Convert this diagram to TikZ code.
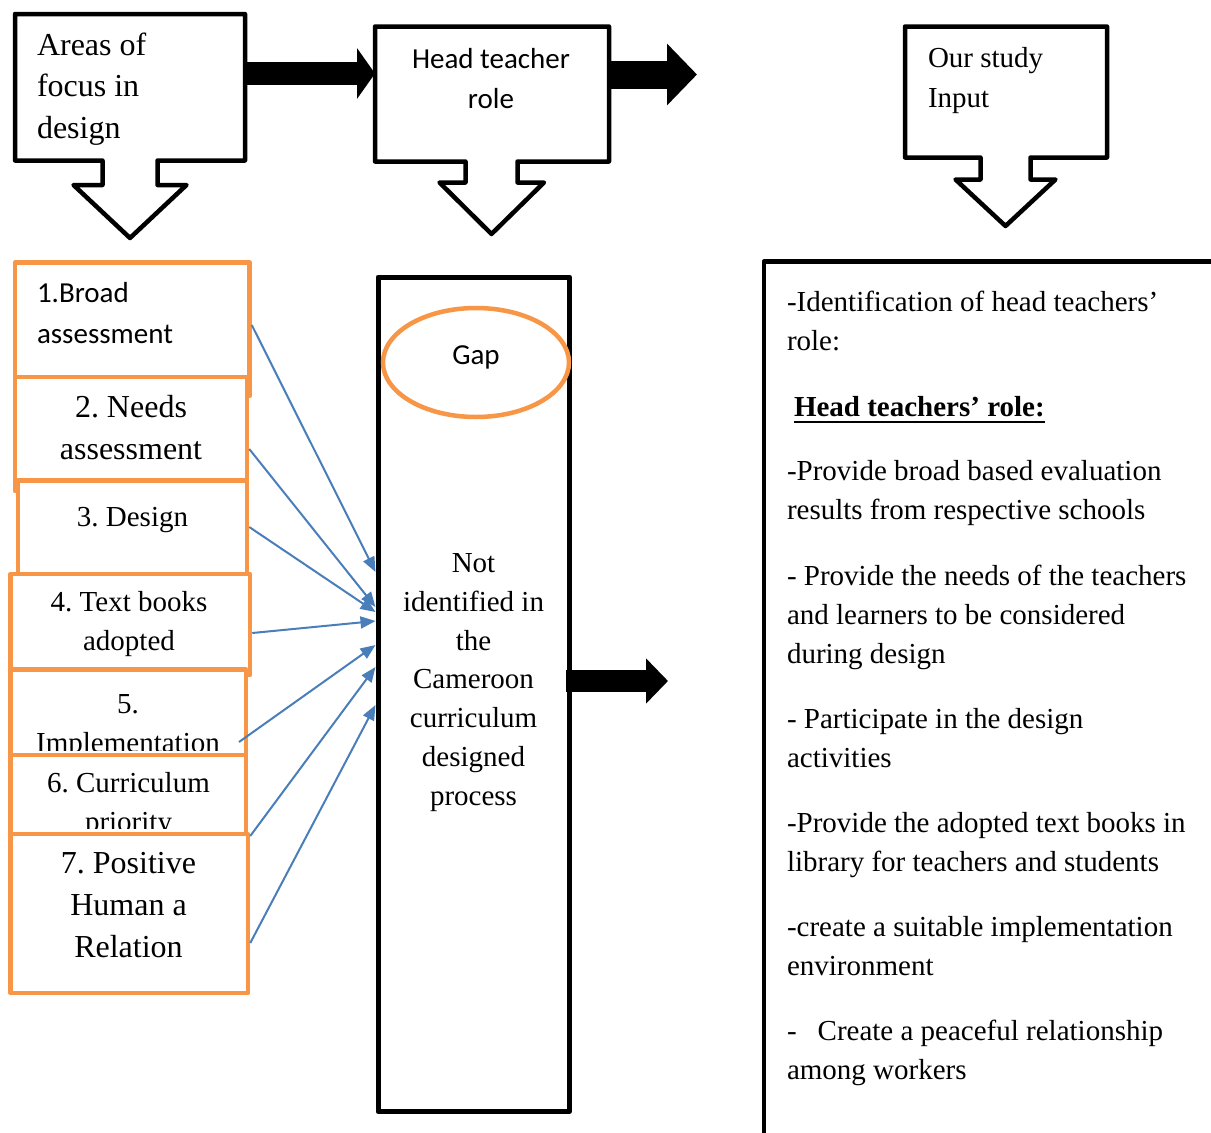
\documentclass[tikz,border=0pt]{standalone}
\usepackage{fontspec}
\setmainfont{Liberation Serif}
\newfontfamily\calib{Carlito}
\usetikzlibrary{arrows.meta,shapes.geometric,calc}
\definecolor{accent}{HTML}{F79646}
\definecolor{linkblue}{HTML}{4A7EBB}
% type sizes used in the chart
\newcommand\txtbig{\fontsize{32pt}{42pt}\selectfont}
\newcommand\txtmid{\fontsize{29pt}{39pt}\selectfont}
\newcommand\txtcal{\calib\fontsize{29pt}{41pt}\selectfont}
% bold heading with a heavy underline
\newcommand\hdul[1]{\setbox0\hbox{#1}\rlap{\raisebox{-7pt}{\rule{\wd0}{2.5pt}}}\box0}
\frenchspacing
\begin{document}
% multi-line texts are placed by the baseline of their last line
\begin{tikzpicture}[x=1pt,y=-1pt,
  blk/.style={draw=black,line width=4.5pt,line join=round},
  anchorbox/.style={inner sep=0,outer sep=0},
  obox/.style={draw=accent,line width=4.5pt,fill=white,line join=round,inner sep=0},
  tall/.style={draw=black,line width=5pt,line join=round,inner sep=0},
  blockarrow/.style args={#1/#2/#3}{line width=#1,-{Triangle[length=#2,width=#3]}},
  linkarrow/.style={draw=linkblue,line width=2pt,-{Triangle[length=15pt,width=12pt]}},
  txt/.style={inner sep=0,outer sep=0}]
\useasboundingbox (0,0) rectangle (1211,1133);
\fill[white] (0,0) rectangle (1211,1133);

% ---- three callout boxes along the top ----
\draw[blk] (15,14) -- (245,14) -- (245,160.5) -- (157.5,160.5) -- (157.5,185)
  -- (186.5,185) -- (130,238) -- (73.5,185) -- (102.5,185) -- (102.5,160.5)
  -- (15,160.5) -- cycle;
\node[anchorbox,minimum width=230,minimum height=146.5] (areas) at (130,87.25) {};
\node[txt,anchor=base west,align=left,font=\fontsize{32pt}{41.5pt}\selectfont] (areastxt)
  at (37,138) {Areas of\\focus in\\design};

\draw[blk] (375,26.5) -- (609,26.5) -- (609,161.5) -- (517.5,161.5) -- (517.5,182.5)
  -- (544,182.5) -- (491.5,234) -- (439.5,182.5) -- (465.5,182.5) -- (465.5,161.5)
  -- (375,161.5) -- cycle;
\node[anchorbox,minimum width=234,minimum height=135] (htr) at (492,94) {};
\node[txt,anchor=base,align=center,font=\calib\fontsize{29pt}{40pt}\selectfont] (htrtxt)
  at (491,108) {Head teacher\\role};

\draw[blk] (905,26.5) -- (1107,26.5) -- (1107,157.5) -- (1030.5,157.5) -- (1030.5,179.5)
  -- (1055.5,179.5) -- (1005.5,226) -- (955.5,179.5) -- (980.5,179.5) -- (980.5,157.5)
  -- (905,157.5) -- cycle;
\node[anchorbox,minimum width=202,minimum height=131] (study) at (1006,92) {};
\node[txt,anchor=base west,align=left,font=\fontsize{29pt}{40pt}\selectfont] (studytxt)
  at (928,107) {Our study\\Input};

% ---- thick black arrows ----
\coordinate (yA) at (0,73.5);
\draw[blockarrow=23pt/18pt/50pt] (areas.east |- yA) -- (htr.west |- yA);
\coordinate (tipB) at (697,74.5);
\draw[blockarrow=28pt/30pt/60pt] (htr.east |- tipB) -- (tipB);

% ---- column of focus areas ----
\node[obox,minimum width=234.5,minimum height=133.5] (b1) at (132.25,329.25) {};
\node[txt,anchor=base west,align=left,font=\txtcal] (b1txt) at (37,343)
  {1.Broad\\assessment};
\node[obox,minimum width=232,minimum height=114] (b2) at (131,434) {};
\node[txt,anchor=base,align=center,font=\txtbig] (b2txt) at (131,459)
  {2. Needs\\assessment};
\node[obox,minimum width=229,minimum height=95.5] (b3) at (132.5,528.25) {};
\node[txt,anchor=base,font=\txtmid] (b3txt) at (132.5,526) {3. Design};
\node[obox,minimum width=239.5,minimum height=101] (b4) at (130.25,624.5) {};
\node[txt,anchor=base,align=center,font=\txtmid] (b4txt) at (129,650)
  {4. Text books\\adopted};
\node[obox,minimum width=235.5,minimum height=87.5] (b5) at (128.25,713.25) {};
\begin{scope}
  \clip (10,669) rectangle (246,750);
  \node[txt,anchor=base,align=center,font=\txtmid] (b5txt) at (128,752)
    {5.\\Implementation};
\end{scope}
\node[obox,minimum width=235.5,minimum height=81] (b6) at (128.25,795.5) {};
\begin{scope}
  \clip (10,755) rectangle (246,828);
  \node[txt,anchor=base,align=center,font=\txtmid] (b6txt) at (128.5,831)
    {6. Curriculum\\priority};
\end{scope}
\node[obox,minimum width=237.5,minimum height=159] (b7) at (129.25,913.5) {};
\node[txt,anchor=base,align=center,font=\txtbig] (b7txt) at (128.5,957)
  {7. Positive\\Human a\\Relation};

% ---- gap column ----
\node[tall,minimum width=191.5,minimum height=834.5] (gapcol) at (473.75,694.25) {};
\node[draw=accent,line width=4.5pt,ellipse,inner sep=0,minimum width=186,minimum height=109]
  (gapring) at (476,362.5) {};
\node[txt,anchor=base,font=\txtcal] (gaptxt) at (476,364) {Gap};
\node[txt,anchor=base,align=center,font=\fontsize{29pt}{38.7pt}\selectfont] (midtxt)
  at (473.5,805) {Not\\identified in\\the\\Cameroon\\curriculum\\designed\\process};

% ---- links from each focus area into the gap column ----
\foreach \src/\sy/\ty in {b1/325/572, b2/449/607, b3/527/612, b4/633/621, b7/836/667, b7/943/705} {
  \coordinate (s) at (0,\sy);
  \coordinate (t) at (0,\ty);
  \draw[linkarrow] (\src.east |- s) -- (gapcol.west |- t);
}
\coordinate (s5) at (239,742);
\coordinate (t5) at (0,645);
\draw[linkarrow] (s5) -- (gapcol.west |- t5);

% ---- study input panel ----
\coordinate (tipC) at (668,681);
\draw[blockarrow=22pt/22pt/44pt] ([xshift=-6pt]gapcol.east |- tipC) -- (tipC);
\draw[line width=4.5pt,line join=round] (1230,261.5) -- (764,261.5) -- (764,1150);
\node[txt,anchor=base west,align=left,font=\txtmid] (p1) at (787,350)
  {-Identification of head teachers’\\role:};
\node[txt,anchor=base west,font=\txtmid] (p2) at (794,416)
  {\hdul{\textbf{Head teachers’ role:}}};
\node[txt,anchor=base west,align=left,font=\txtmid] (p3) at (787,519)
  {-Provide broad based evaluation\\results from respective schools};
\node[txt,anchor=base west,align=left,font=\txtmid] (p4) at (787,663)
  {- Provide the needs of the teachers\\and learners to be considered\\during design};
\node[txt,anchor=base west,align=left,font=\txtmid] (p5) at (787,767)
  {- Participate in the design\\activities};
\node[txt,anchor=base west,align=left,font=\txtmid] (p6) at (787,871)
  {-Provide the adopted text books in\\library for teachers and students};
\node[txt,anchor=base west,align=left,font=\txtmid] (p7) at (787,975)
  {-create a suitable implementation\\environment};
\node[txt,anchor=base west,align=left,font=\txtmid] (p8) at (787,1079)
  {-\hspace{21pt}Create a peaceful relationship\\among workers};
\end{tikzpicture}
\end{document}
